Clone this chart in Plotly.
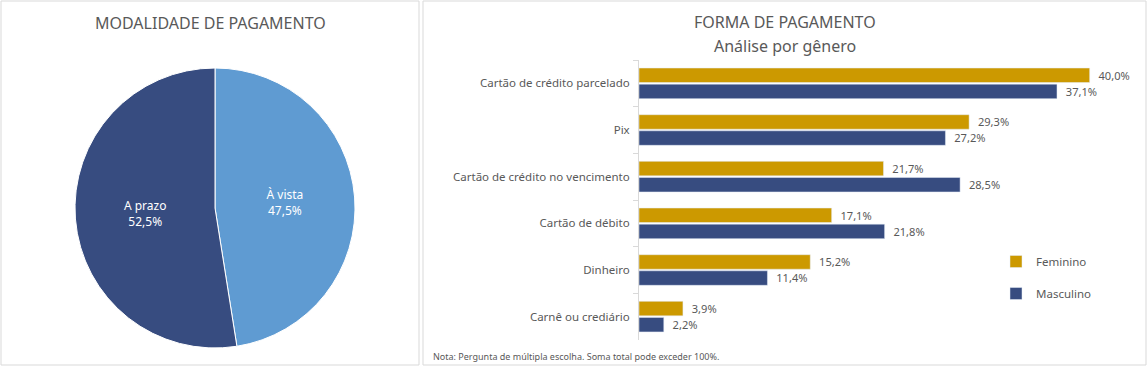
import plotly.graph_objects as go

W, H = 1148, 370

pie_labels = ["À vista", "A prazo"]
pie_values = [47.5, 52.5]

categories = ["Cartão de crédito parcelado", "Pix", "Cartão de crédito no vencimento",
              "Cartão de débito", "Dinheiro", "Carnê ou crediário"]
feminino = [40.0, 29.3, 21.7, 17.1, 15.2, 3.9]
masculino = [37.1, 27.2, 28.5, 21.8, 11.4, 2.2]

GOLD = "#CC9900"
NAVY = "#374C80"
LIGHT = "#5F9BD2"
GRAY = "#595959"
FONT = "Noto Sans"

def px_x(p):
    return p / W

def px_y(p):
    return 1 - p / H

def fmt(v):
    return f"{v:.1f}%".replace(".", ",")

fig = go.Figure()

fig.add_trace(go.Pie(
    labels=pie_labels, values=pie_values, sort=False, direction="clockwise", rotation=0,
    marker=dict(colors=[LIGHT, NAVY], line=dict(color="white", width=1)),
    texttemplate="%{label}<br>%{percent:.1%}", textposition="inside",
    insidetextorientation="horizontal",
    textfont=dict(color="white", size=12, family=FONT),
    domain=dict(x=[px_x(75), px_x(355)], y=[px_y(348), px_y(68)]),
    showlegend=False, hoverinfo="label+percent",
))

fig.add_trace(go.Bar(
    y=categories, x=feminino, orientation="h", name="Feminino",
    marker=dict(color=GOLD), text=["  " + fmt(v) for v in feminino],
    textposition="outside", textfont=dict(color=GRAY, size=11.5, family=FONT),
    cliponaxis=False, legendgroup="f",
))
fig.add_trace(go.Bar(
    y=categories, x=masculino, orientation="h", name="Masculino",
    marker=dict(color=NAVY), text=["  " + fmt(v) for v in masculino],
    textposition="outside", textfont=dict(color=GRAY, size=11.5, family=FONT),
    cliponaxis=False, legendgroup="m",
))

shapes = [
    dict(type="rect", xref="paper", yref="paper", x0=px_x(1), x1=px_x(419), y0=px_y(365), y1=px_y(1),
         line=dict(color="#D9D9D9", width=1)),
    dict(type="rect", xref="paper", yref="paper", x0=px_x(423), x1=px_x(1146), y0=px_y(365), y1=px_y(1),
         line=dict(color="#D9D9D9", width=1)),
]

annotations = [
    dict(text="MODALIDADE DE PAGAMENTO", x=px_x(210), y=px_y(23), xref="paper", yref="paper",
         showarrow=False, font=dict(size=16, color=GRAY, family=FONT), xanchor="center", yanchor="middle"),
    dict(text="FORMA DE PAGAMENTO", x=px_x(785), y=px_y(22), xref="paper", yref="paper",
         showarrow=False, font=dict(size=16, color=GRAY, family=FONT), xanchor="center", yanchor="middle"),
    dict(text="Análise por gênero", x=px_x(785), y=px_y(46), xref="paper", yref="paper",
         showarrow=False, font=dict(size=16, color=GRAY, family=FONT), xanchor="center", yanchor="middle"),
    dict(text="Nota: Pergunta de múltipla escolha. Soma total pode exceder 100%.",
         x=px_x(431), y=px_y(356), xref="paper", yref="paper",
         showarrow=False, font=dict(size=9, color=GRAY, family=FONT), xanchor="left", yanchor="middle"),
]

fig.update_layout(
    width=W, height=H, margin=dict(l=0, r=0, t=0, b=0),
    paper_bgcolor="white", plot_bgcolor="white",
    separators=",.",
    barmode="group", bargap=0.31, bargroupgap=0.1,
    font=dict(family=FONT, color=GRAY),
    xaxis=dict(domain=[px_x(639), px_x(1146)], range=[0, 45], visible=False, fixedrange=True),
    yaxis=dict(domain=[px_y(340), px_y(60)], autorange="reversed", type="category",
               showline=True, linecolor="#D9D9D9", linewidth=1,
               ticks="outside", ticklen=5, tickcolor="#D9D9D9", tickson="boundaries",
               ticklabelstandoff=6,
               tickfont=dict(size=11.5, color=GRAY, family=FONT), showgrid=False, fixedrange=True),
    legend=dict(x=px_x(996), y=px_y(247), xanchor="left", yanchor="top",
                font=dict(size=11.5, color=GRAY, family=FONT), tracegroupgap=13,
                bgcolor="rgba(0,0,0,0)", itemwidth=30),
    shapes=shapes, annotations=annotations,
)

fig.write_html("out.html", config={"displayModeBar": False},
               post_script="document.body.style.margin='0';")
